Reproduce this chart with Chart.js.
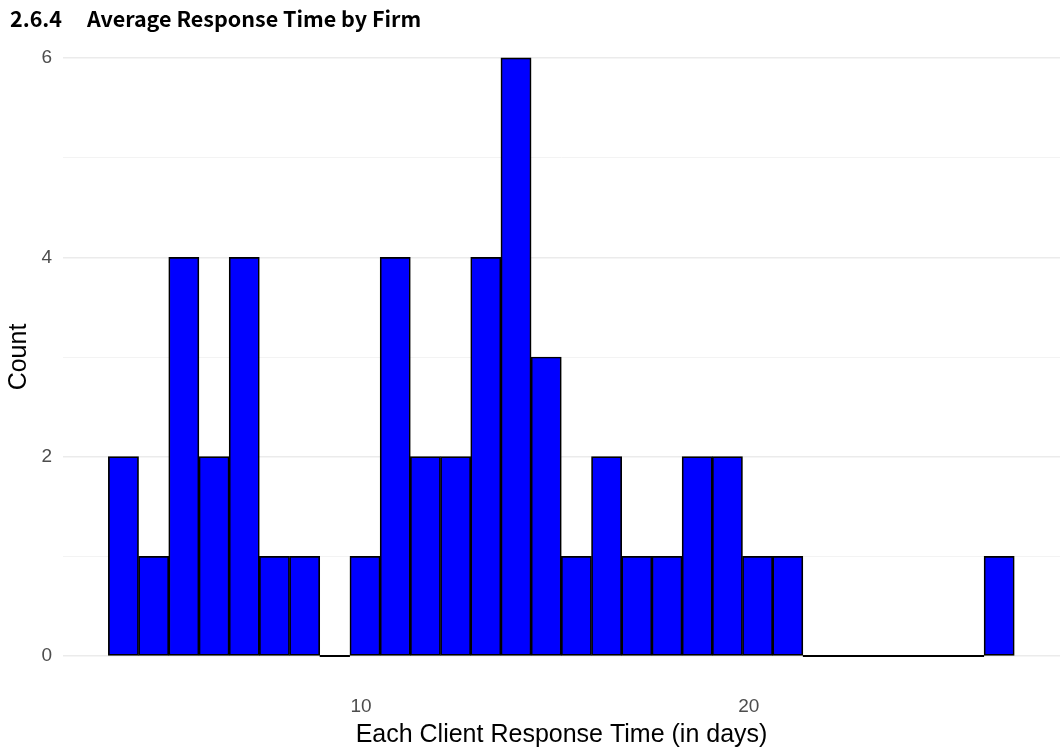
<!DOCTYPE html>
<html>
<head>
<meta charset="utf-8">
<script src="https://cdn.jsdelivr.net/npm/chart.js@4/dist/chart.umd.min.js"></script>
<style>
	html, body { margin: 0; padding: 0; background: #fff; }
	#wrap { position: relative; width: 1062px; height: 756px; }
	#heading {
		position: absolute; left: 10px; top: 3px; margin: 0;
		font-family: "Noto Sans CJK KR", sans-serif; font-weight: 700;
		font-size: 21.5px; line-height: 30px; color: #000; white-space: nowrap;
	}
	#heading .num { margin-right: 25px; }
</style>
</head>
<body>
<div id="wrap">
	<h3 id="heading"><span class="num">2.6.4</span>Average Response Time by Firm</h3>
	<canvas id="myChart" width="1062" height="756"></canvas>
</div>
<script>
// histogram bins (30 bins)
const binStart = 3.48;
const binWidth = 0.779;
const counts = [2, 1, 4, 2, 4, 1, 1, 0, 1, 4, 2, 2, 4, 6, 3, 1, 2, 1, 1, 2, 2, 1, 1, 0, 0, 0, 0, 0, 0, 1];
const xTicks = [10, 20];
const yTicks = [0, 1, 2, 3, 4, 5, 6];
const yLabels = [0, 2, 4, 6];

const bars = counts.map((c, i) => ({ x: binStart + binWidth * (i + 0.5), y: c }));

// black baseline under empty bins
const baseline = [];
counts.forEach((c, i) => {
	if (c === 0) {
		baseline.push({ x: binStart + binWidth * i, y: 0 });
		baseline.push({ x: binStart + binWidth * (i + 1), y: 0 });
		baseline.push({ x: binStart + binWidth * (i + 1), y: null });
	}
});

const axisFont = { family: "Liberation Sans, Arial, sans-serif", size: 19 };
const titleFont = { family: "Liberation Sans, Arial, sans-serif", size: 25, lineHeight: 1 };

const config = {
	type: "bar",
	data: {
		datasets: [
			{
				type: "line",
				data: baseline,
				borderColor: "#000",
				borderWidth: 2,
				pointRadius: 0,
				spanGaps: false,
				order: 2,
			},
			{
				data: bars,
				backgroundColor: "#0000ff",
				borderColor: "#000",
				borderWidth: 1.7,
				borderSkipped: false,
				barPercentage: 1,
				categoryPercentage: 1,
				order: 1,
			},
		],
	},
	options: {
		responsive: false,
		animation: false,
		events: [],
		layout: { padding: { top: 28, left: 0, right: 2, bottom: 0 } },
		plugins: { legend: { display: false }, tooltip: { enabled: false } },
		scales: {
			x: {
				type: "linear",
				min: 2.31,
				max: 28.03,
				offset: false,
				grid: { display: false, drawTicks: false },
				border: { display: false },
				afterBuildTicks: (scale) => {
					scale.ticks = xTicks.map((v) => ({ value: v }));
				},
				afterFit: (scale) => {
					scale.height = 70;
				},
				ticks: { color: "#4d4d4d", font: axisFont, padding: 9, maxRotation: 0 },
				title: {
					display: true,
					text: "Each Client Response Time (in days)",
					color: "#000",
					font: titleFont,
					padding: { top: 0, bottom: 8 },
				},
			},
			y: {
				min: -0.3,
				max: 6.3,
				afterBuildTicks: (scale) => {
					scale.ticks = yTicks.map((v) => ({ value: v }));
				},
				afterFit: (scale) => {
					scale.width = 63;
				},
				grid: {
					drawTicks: false,
					color: (ctx) => (ctx.tick && ctx.tick.value % 2 === 0 ? "#ebebeb" : "#f3f3f3"),
					lineWidth: (ctx) => (ctx.tick && ctx.tick.value % 2 === 0 ? 1.5 : 1),
				},
				border: { display: false },
				ticks: {
					color: "#4d4d4d",
					font: axisFont,
					padding: 11,
					callback: (v) => (yLabels.includes(v) ? String(v) : ""),
				},
				title: {
					display: true,
					text: "Count",
					color: "#000",
					font: titleFont,
					padding: { top: 7, bottom: 0 },
				},
			},
		},
	},
};

const myChart = new Chart(document.getElementById("myChart"), config);
</script>
</body>
</html>
